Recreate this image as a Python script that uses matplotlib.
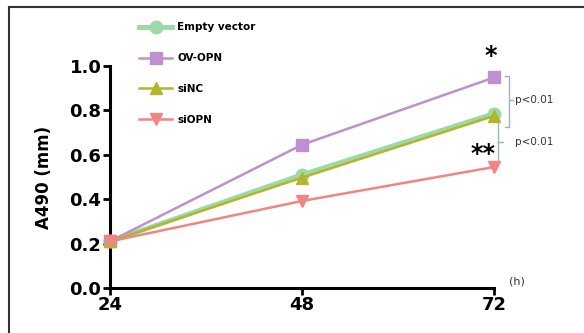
import matplotlib
matplotlib.use("Agg")
import matplotlib.pyplot as plt
from matplotlib.lines import Line2D

# data
hours = [24, 48, 72]
empty_vector = [0.21, 0.51, 0.785]
ov_opn = [0.21, 0.645, 0.948]
si_nc = [0.21, 0.497, 0.775]
si_opn = [0.21, 0.392, 0.545]
y_ticks = [0.0, 0.2, 0.4, 0.6, 0.8, 1.0]

fig = plt.figure(figsize=(5.84, 3.33), dpi=100)
ax = fig.add_axes([0.188, 0.135, 0.658, 0.667])

# outer frame (top and left only)
fig.add_artist(Line2D([0.0154, 0.0154], [0, 0.979], color="#333333", lw=1.5))
fig.add_artist(Line2D([0.0154, 1.0], [0.979, 0.979], color="#333333", lw=1.5))

ax.plot(hours, empty_vector, color="#9dd8a6", lw=3.5, marker="o", ms=9,
        label="Empty vector", clip_on=False, zorder=3)
ax.plot(hours, ov_opn, color="#bf8fd0", lw=1.8, marker="s", ms=9,
        label="OV-OPN", clip_on=False, zorder=3)
ax.plot(hours, si_nc, color="#b3b52c", lw=1.8, marker="^", ms=9,
        label="siNC", clip_on=False, zorder=4)
ax.plot(hours, si_opn, color="#f28484", lw=1.8, marker="v", ms=9,
        label="siOPN", clip_on=False, zorder=5)

ax.set_xlim(24, 72)
ax.set_ylim(0, 1.0)
ax.set_xticks(hours)
ax.set_yticks(y_ticks)
ax.set_yticklabels([f"{v:.1f}" for v in y_ticks])
for s in ["top", "right"]:
    ax.spines[s].set_visible(False)
for s in ["left", "bottom"]:
    ax.spines[s].set_linewidth(2.2)
ax.tick_params(width=2, length=5, labelsize=13, pad=1)
for lab in ax.get_xticklabels() + ax.get_yticklabels():
    lab.set_fontweight("bold")
ax.set_ylabel("A490 (mm)", fontsize=12, fontweight="bold", labelpad=12)

leg = ax.legend(loc="upper left", bbox_to_anchor=(0.065, 1.215), frameon=False,
                prop={"size": 7.5, "weight": "bold"}, handlelength=3.2,
                handletextpad=0.5, labelspacing=2.0, borderaxespad=0)

# significance brackets
bc = "#9bb3c4"
ax.plot([73.4, 73.9, 73.9, 73.4], [0.955, 0.955, 0.725, 0.725], color=bc, lw=1,
        clip_on=False)
ax.plot([73.9, 74.4], [0.847, 0.847], color=bc, lw=1, clip_on=False)
ax.text(74.6, 0.847, "p<0.01", fontsize=7.5, va="center", color="#333333")
ax.plot([72.5, 72.5], [0.757, 0.554], color=bc, lw=1, clip_on=False)
ax.plot([72.5, 73.1], [0.658, 0.658], color=bc, lw=1, clip_on=False)
ax.text(74.6, 0.658, "p<0.01", fontsize=7.5, va="center", color="#333333")

ax.text(71.6, 1.045, "*", fontsize=17, fontweight="bold", ha="center", va="center")
ax.text(70.6, 0.605, "**", fontsize=17, fontweight="bold", ha="center", va="center")
ax.text(73.9, 0.03, "(h)", fontsize=8, color="#333333", va="center")

fig.savefig("out.png", dpi=100)
